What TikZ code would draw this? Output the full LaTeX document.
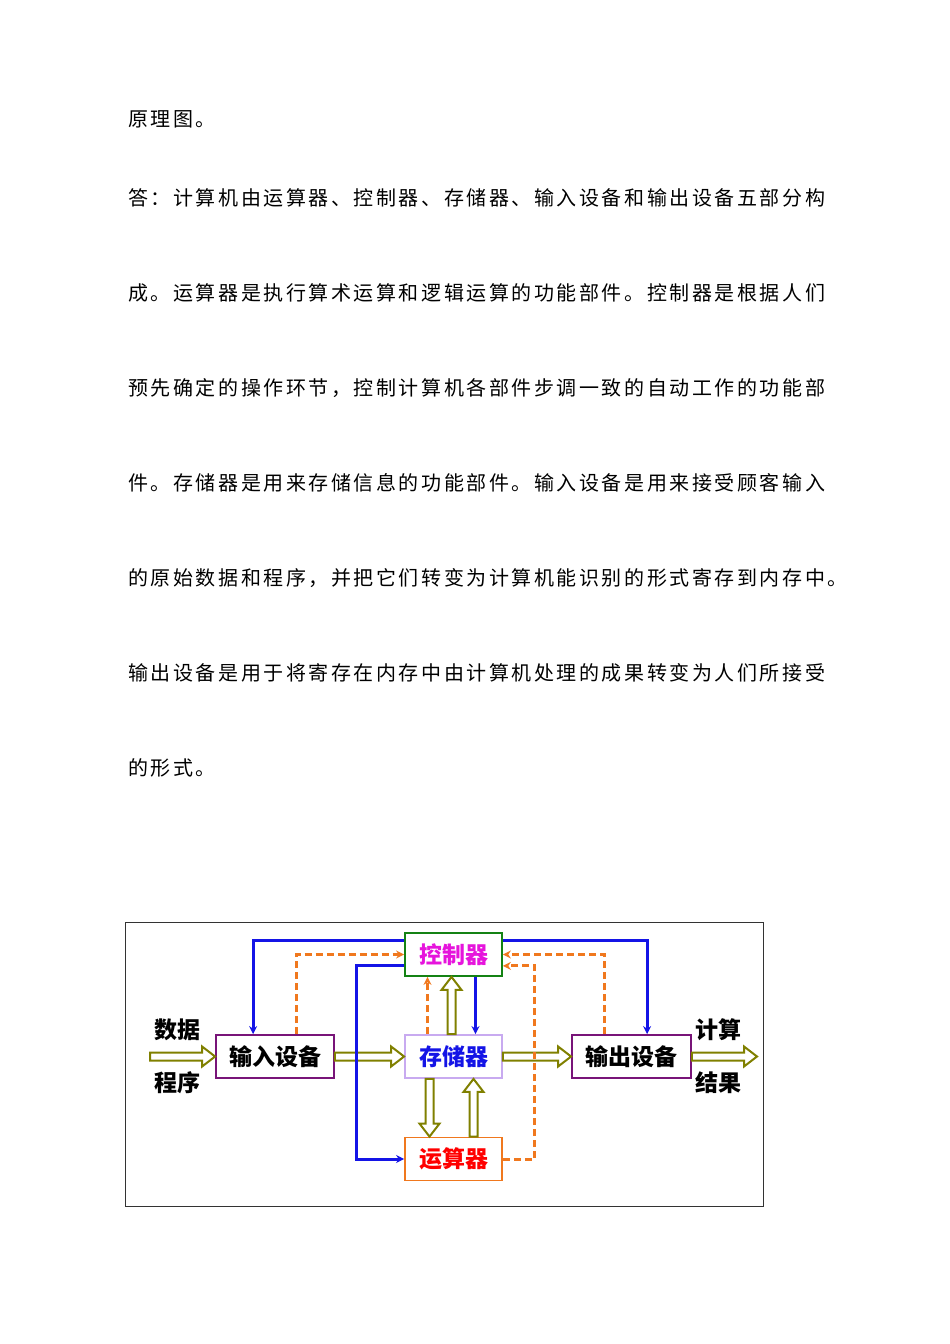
\documentclass[tikz,border=0pt]{standalone}
\usepackage{fontspec}
\setmainfont{Noto Sans CJK SC}
\newfontfamily\spaced[LetterSpace=12.8]{Noto Sans CJK SC}
\usetikzlibrary{calc,arrows.meta}
\definecolor{hol}{RGB}{128,128,0}
\definecolor{dor}{RGB}{240,120,30}
\definecolor{bl}{RGB}{20,20,230}
\tikzset{
 txt/.style={anchor=west,inner sep=0,font=\spaced\fontsize{20}{21}\selectfont},
 box/.style={draw,line width=1.8pt,minimum width=97pt,minimum height=43pt,inner sep=0,font=\bfseries\fontsize{23}{24}\selectfont},
 lab/.style={inner sep=0,font=\bfseries\fontsize{23}{24}\selectfont},
 harr/.style={draw=hol,line width=2pt,fill=white},
 bline/.style={draw=bl,line width=3pt,-{Stealth[length=8pt,width=8pt]}},
 oline/.style={draw=dor,line width=3pt,dash pattern=on 7pt off 4pt,-{Stealth[length=8pt,width=8pt]}}
}
\newcommand\hR[2]{\path[harr] let \p1=(#1), \p2=(#2) in (\x1,\y1+4pt) -- (\x2-13pt,\y1+4pt) -- (\x2-13pt,\y1+10pt) -- (\x2,\y1) -- (\x2-13pt,\y1-10pt) -- (\x2-13pt,\y1-4pt) -- (\x1,\y1-4pt) -- cycle;}
\newcommand\hU[2]{\path[harr] let \p1=(#1), \p2=(#2) in (\x1+4pt,\y1) -- (\x1+4pt,\y2-13pt) -- (\x1+10pt,\y2-13pt) -- (\x1,\y2) -- (\x1-10pt,\y2-13pt) -- (\x1-4pt,\y2-13pt) -- (\x1-4pt,\y1) -- cycle;}
\newcommand\hD[2]{\path[harr] let \p1=(#1), \p2=(#2) in (\x1+4pt,\y1) -- (\x1+4pt,\y2+13pt) -- (\x1+10pt,\y2+13pt) -- (\x1,\y2) -- (\x1-10pt,\y2+13pt) -- (\x1-4pt,\y2+13pt) -- (\x1-4pt,\y1) -- cycle;}
\begin{document}
\begin{tikzpicture}[x=1pt,y=-1pt]
\useasboundingbox (0,0) rectangle (950,1344);
\node[txt] (l0) at (128,119) {原理图。};
\node[txt] (l1) at (128,198) {答：计算机由运算器、控制器、存储器、输入设备和输出设备五部分构};
\node[txt] (l2) at (128,293) {成。运算器是执行算术运算和逻辑运算的功能部件。控制器是根据人们};
\node[txt] (l3) at (128,388) {预先确定的操作环节，控制计算机各部件步调一致的自动工作的功能部};
\node[txt] (l4) at (128,483) {件。存储器是用来存储信息的功能部件。输入设备是用来接受顾客输入};
\node[txt] (l5) at (128,578) {的原始数据和程序，并把它们转变为计算机能识别的形式寄存到内存中。};
\node[txt] (l6) at (128,673) {输出设备是用于将寄存在内存中由计算机处理的成果转变为人们所接受};
\node[txt] (l7) at (128,768) {的形式。};
\draw[line width=0.8pt,black!80] (125,922) rectangle (763,1206);
\node[box,draw={rgb,255:red,20;green,130;blue,20},text={rgb,255:red,230;green,20;blue,220}] (ctl) at (453.5,954.5) {控制器};
\node[box,draw={rgb,255:red,200;green,170;blue,240},text=bl] (mem) at (453.5,1056.5) {存储器};
\node[box,draw={rgb,255:red,240;green,120;blue,30},text=red] (alu) at (453.5,1159) {运算器};
\node[box,minimum width=118pt,draw={rgb,255:red,120;green,20;blue,120}] (in) at (275,1056.5) {输入设备};
\node[box,minimum width=119pt,draw={rgb,255:red,120;green,20;blue,120}] (out) at (631.5,1056.5) {输出设备};
\node[lab] (t1) at (177,1030) {数据};
\node[lab] (t2) at (177,1083) {程序};
\node[lab] (t3) at (718,1030) {计算};
\node[lab] (t4) at (718,1083) {结果};
\coordinate (src) at (150,1056.5);
\coordinate (dst) at (757,1056.5);
\hR{src}{in.west}
\hR{in.east}{mem.west}
\hR{mem.east}{out.west}
\hR{out.east}{dst}
\hU{$(mem.north)+(-2,0)$}{$(ctl.south)+(-2,0)$}
\hD{$(mem.south)+(-24,0)$}{$(alu.north)+(-24,0)$}
\hU{$(alu.north)+(20,0)$}{$(mem.south)+(20,0)$}
% blue
\draw[bline] ($(ctl.north west)+(0,8)$) -| ($(in.north west)+(38,0)$);
\draw[bline] ($(ctl.north east)+(0,8)$) -| ($(out.north west)+(76,0)$);
\draw[bline] ($(ctl.south west)+(0,-11)$) -- ++(-48,0) |- (alu.west);
\draw[bline] ($(ctl.south)+(22,0)$) -- ($(mem.north)+(22,0)$);
% orange
\draw[oline] ($(in.north west)+(81,0)$) |- (ctl.west);
\draw[oline] ($(out.north west)+(33,0)$) |- (ctl.east);
\draw[oline] (alu.east) -- ++(32,0) |- ($(ctl.south east)+(0,-11)$);
\draw[oline] ($(mem.north)+(-26,0)$) -- ($(ctl.south)+(-26,0)$);
\end{tikzpicture}
\end{document}
